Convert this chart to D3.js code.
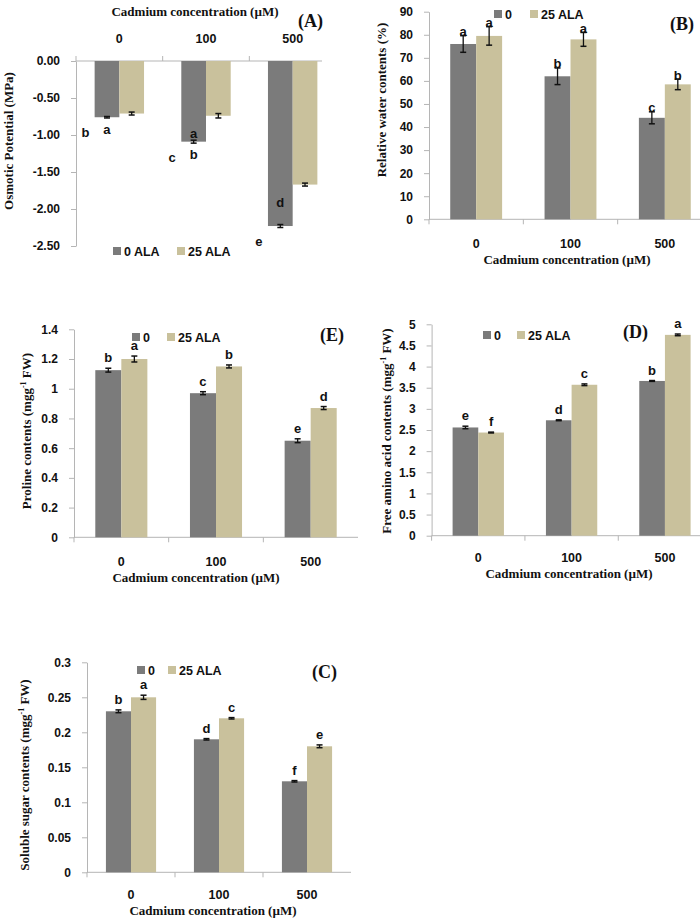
<!DOCTYPE html>
<html>
<head>
<meta charset="utf-8">
<script src="https://cdn.jsdelivr.net/npm/d3@7"></script>
<style>
body { margin: 0; background: #fff; }
text { font-family: "Liberation Sans", Arial, sans-serif; font-weight: bold; fill: #111; }
.serif { font-family: "Liberation Serif", "Times New Roman", serif; font-weight: bold; }
.axis path, .axis line { stroke: #b5b5b5; }
</style>
</head>
<body>
<script>
// categories (cadmium concentration)
var cats = ["0", "100", "500"];

// (A) osmotic potential
var osmo0 = [-0.76, -1.09, -2.23];
var osmo25 = [-0.71, -0.74, -1.67];
var osmoErr0 = [0.01, 0.02, 0.02];
var osmoErr25 = [0.02, 0.03, 0.02];
var osmoLetSide = ["b", "c", "e"];
var osmoLetBelow = ["a", "b", ""];
var osmoLetInside = ["", "a", "d"];
var osmoTicks = [0, -0.5, -1, -1.5, -2, -2.5];

// (B) relative water contents
var rwc0 = [76, 62, 44];
var rwc25 = [79.5, 78, 58.5];
var rwcErr0 = [3.6, 3.6, 2.6];
var rwcErr25 = [4, 3, 2.3];
var rwcLet0 = ["a", "b", "c"];
var rwcLet25 = ["a", "a", "b"];
var rwcTicks = [0, 10, 20, 30, 40, 50, 60, 70, 80, 90];

// (E) proline
var pro0 = [1.125, 0.97, 0.65];
var pro25 = [1.2, 1.15, 0.87];
var proErr0 = [0.013, 0.01, 0.013];
var proErr25 = [0.02, 0.01, 0.01];
var proLet0 = ["b", "c", "e"];
var proLet25 = ["a", "b", "d"];
var proTicks = [0, 0.2, 0.4, 0.6, 0.8, 1, 1.2, 1.4];

// (D) free amino acids
var faa0 = [2.56, 2.73, 3.66];
var faa25 = [2.44, 3.57, 4.75];
var faaErr0 = [0.03, 0.01, 0.01];
var faaErr25 = [0.01, 0.02, 0.02];
var faaLet0 = ["e", "d", "b"];
var faaLet25 = ["f", "c", "a"];
var faaTicks = [0, 0.5, 1, 1.5, 2, 2.5, 3, 3.5, 4, 4.5, 5];

// (C) soluble sugar
var sug0 = [0.23, 0.19, 0.13];
var sug25 = [0.25, 0.22, 0.18];
var sugErr0 = [0.002, 0.001, 0.001];
var sugErr25 = [0.003, 0.001, 0.002];
var sugLet0 = ["b", "d", "f"];
var sugLet25 = ["a", "c", "e"];
var sugTicks = [0, 0.05, 0.1, 0.15, 0.2, 0.25, 0.3];

var gray = "#7b7b7b", beige = "#c9c19c";

var svg = d3.select("body").append("svg")
    .attr("width", 700)
    .attr("height", 924);

function general(d) { return String(+d.toFixed(3)); }

function drawPanel(p) {
  var x = d3.scaleBand().domain(cats).range([p.left, p.right]);
  var bw = x.bandwidth() * p.group / 2;
  var y = d3.scaleLinear().domain(p.domain).range([p.bottom, p.top]);
  var g = svg.append("g");

  // y axis
  g.append("g")
      .attr("class", "axis")
      .attr("transform", "translate(" + p.left + ",0)")
      .call(d3.axisLeft(y).tickValues(p.ticks).tickSize(5).tickSizeOuter(0)
        .tickPadding(11).tickFormat(p.fmt || general))
    .selectAll("text")
      .style("font-size", "12px");

  // category axis
  var y0 = y(0);
  var dir = p.flip ? -1 : 1;
  g.append("line")
      .attr("x1", p.left).attr("x2", p.axisEnd || p.right)
      .attr("y1", y0).attr("y2", y0)
      .attr("stroke", "#b5b5b5");
  g.selectAll(".xt")
    .data(cats)
    .enter().append("line")
      .attr("x1", function(d) { return x(d); })
      .attr("x2", function(d) { return x(d); })
      .attr("y1", y0).attr("y2", y0 + dir * 5)
      .attr("stroke", "#b5b5b5");
  g.selectAll(".xl")
    .data(cats)
    .enter().append("text")
      .attr("x", function(d) { return x(d) + x.bandwidth() / 2; })
      .attr("y", p.catY)
      .attr("text-anchor", "middle")
      .style("font-size", "12.5px")
      .text(function(d) { return d; });

  // bars
  var series = [
    {vals: p.v0, errs: p.e0, lets: p.l0, color: gray, off: -bw},
    {vals: p.v25, errs: p.e25, lets: p.l25, color: beige, off: 0}
  ];
  series.forEach(function(s) {
    var cx = function(i) { return x(cats[i]) + x.bandwidth() / 2 + s.off; };
    var sg = g.append("g");
    sg.selectAll("rect")
      .data(s.vals)
      .enter().append("rect")
        .attr("x", function(d, i) { return cx(i); })
        .attr("width", bw)
        .attr("y", function(d) { return Math.min(y(d), y0); })
        .attr("height", function(d) { return Math.abs(y(d) - y0); })
        .attr("fill", s.color);
    // error bars
    s.vals.forEach(function(v, i) {
      var m = cx(i) + bw / 2, e = s.errs[i];
      var hi = y(v + e), lo = y(v - e);
      sg.append("line").attr("x1", m).attr("x2", m).attr("y1", hi).attr("y2", lo)
        .attr("stroke", "#111").attr("stroke-width", 1.3);
      [hi, lo].forEach(function(yy) {
        sg.append("line").attr("x1", m - 3).attr("x2", m + 3).attr("y1", yy).attr("y2", yy)
          .attr("stroke", "#111").attr("stroke-width", 1.5);
      });
      if (s.lets) {
        sg.append("text")
          .attr("x", m)
          .attr("y", Math.min(hi, lo) - p.letGap)
          .attr("text-anchor", "middle")
          .style("font-size", "13px")
          .text(s.lets[i]);
      }
    });
  });

  // legend
  var lg = g.append("g");
  p.legend.forEach(function(l, i) {
    lg.append("rect").attr("x", l.x).attr("y", p.legY - 4).attr("width", 8).attr("height", 8)
      .attr("fill", i === 0 ? gray : beige);
    lg.append("text").attr("x", l.x + 11).attr("y", p.legY + 4.5)
      .style("font-size", "12.5px").text(l.t);
  });

  // panel label
  g.append("text").attr("class", "serif")
      .attr("x", p.tagX).attr("y", p.tagY)
      .style("font-size", "18px")
      .text(p.tag);

  // axis titles
  g.append("text").attr("class", "serif")
      .attr("x", p.titleX).attr("y", p.titleY)
      .attr("text-anchor", "middle")
      .style("font-size", "13px")
      .text("Cadmium concentration (\u00b5M)");

  var yt = g.append("text").attr("class", "serif")
      .attr("transform", "translate(" + p.yTitleX + "," + p.yTitleY + ") rotate(-90)")
      .attr("text-anchor", "middle")
      .style("font-size", "13px");
  yt.append("tspan").text(p.yTitle[0]);
  if (p.yTitle.length > 1) {
    yt.append("tspan").attr("dy", -5).style("font-size", "8px").text("-1");
    yt.append("tspan").attr("dy", 5).text(p.yTitle[1]);
  }
  return {x: x, y: y, bw: bw};
}

// (A)
var pa = drawPanel({
  left: 76, right: 336, axisEnd: 322, top: 61, bottom: 246, domain: [-2.5, 0], ticks: osmoTicks,
  fmt: function(d) { return d.toFixed(2); }, flip: true, group: 0.57, catY: 43,
  v0: osmo0, v25: osmo25, e0: osmoErr0, e25: osmoErr25,
  legY: 251, legend: [{x: 113, t: "0 ALA"}, {x: 177, t: "25 ALA"}],
  tag: "(A)", tagX: 298, tagY: 27, titleX: 195, titleY: 16,
  yTitle: ["Osmotic Potential (MPa)"], yTitleX: 13, yTitleY: 141
});
// misplaced significance letters of panel A
osmo0.forEach(function(v, i) {
  var m = pa.x(cats[i]) + pa.x.bandwidth() / 2 - pa.bw / 2;
  var end = pa.y(v);
  var add = function(t, xx, yy) {
    if (!t) return;
    svg.append("text").attr("x", xx).attr("y", yy).attr("text-anchor", "middle")
      .style("font-size", "13px").text(t);
  };
  add(osmoLetSide[i], m - 21.5, end + 20);
  add(osmoLetBelow[i], m, end + 17);
  add(osmoLetInside[i], m, pa.y(osmo25[i]) + 22);
});

// (B)
drawPanel({
  left: 429, right: 712, top: 11.7, bottom: 219.3, domain: [0, 90], ticks: rwcTicks,
  group: 0.55, catY: 248, letGap: -0.5,
  v0: rwc0, v25: rwc25, e0: rwcErr0, e25: rwcErr25, l0: rwcLet0, l25: rwcLet25,
  legY: 14, legend: [{x: 494, t: "0"}, {x: 530, t: "25 ALA"}],
  tag: "(B)", tagX: 670, tagY: 30, titleX: 567, titleY: 264,
  yTitle: ["Relative water contents (%)"], yTitleX: 386, yTitleY: 100
});

// (E)
drawPanel({
  left: 74, right: 358, top: 329.3, bottom: 537.3, domain: [0, 1.4], ticks: proTicks,
  group: 0.55, catY: 566, letGap: 6,
  v0: pro0, v25: pro25, e0: proErr0, e25: proErr25, l0: proLet0, l25: proLet25,
  legY: 337, legend: [{x: 132, t: "0"}, {x: 167, t: "25 ALA"}],
  tag: "(E)", tagX: 320, tagY: 341, titleX: 196, titleY: 582,
  yTitle: ["Proline contents (mgg", " FW)"], yTitleX: 31, yTitleY: 431
});

// (D)
drawPanel({
  left: 431.6, right: 711.6, top: 324.3, bottom: 535.7, domain: [0, 5], ticks: faaTicks,
  group: 0.55, catY: 562, letGap: 6,
  v0: faa0, v25: faa25, e0: faaErr0, e25: faaErr25, l0: faaLet0, l25: faaLet25,
  legY: 335, legend: [{x: 483, t: "0"}, {x: 517, t: "25 ALA"}],
  tag: "(D)", tagX: 623, tagY: 338, titleX: 569, titleY: 578,
  yTitle: ["Free amino acid contents (mgg", " FW)"], yTitleX: 391, yTitleY: 431
});

// (C)
drawPanel({
  left: 87, right: 351, top: 662.3, bottom: 872.3, domain: [0, 0.3], ticks: sugTicks,
  group: 0.57, catY: 899, letGap: 6,
  v0: sug0, v25: sug25, e0: sugErr0, e25: sugErr25, l0: sugLet0, l25: sugLet25,
  legY: 670, legend: [{x: 137, t: "0"}, {x: 168, t: "25 ALA"}],
  tag: "(C)", tagX: 312, tagY: 678, titleX: 213, titleY: 915,
  yTitle: ["Soluble sugar contents (mgg", " FW)"], yTitleX: 29, yTitleY: 775
});
</script>
</body>
</html>
